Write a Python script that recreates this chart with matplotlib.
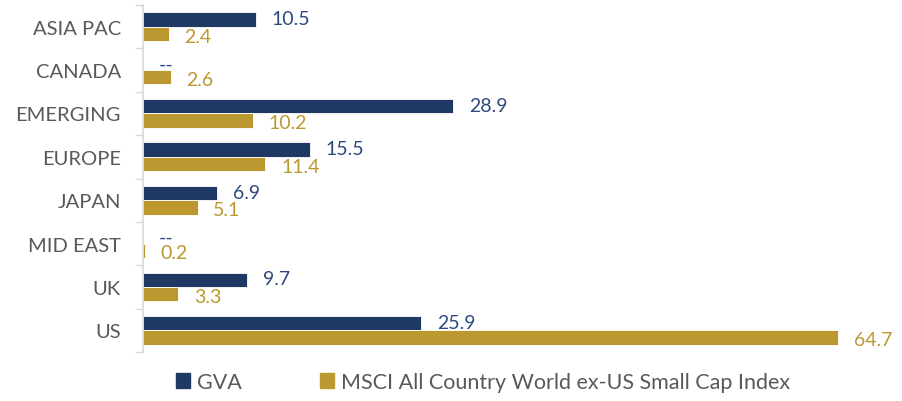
import matplotlib
matplotlib.use("Agg")
import matplotlib.pyplot as plt
from matplotlib.patches import Patch
import numpy as np

categories = ["ASIA PAC", "CANADA", "EMERGING", "EUROPE", "JAPAN", "MID EAST", "UK", "US"]
gva = [10.5, None, 28.9, 15.5, 6.9, None, 9.7, 25.9]
msci = [2.4, 2.6, 10.2, 11.4, 5.1, 0.2, 3.3, 64.7]
series_names = ["GVA", "MSCI All Country World ex-US Small Cap Index"]

NAVY = "#1F3864"
GOLD = "#BC9830"
NAVY_TXT = "#2E4A7D"
GOLD_TXT = "#BC9830"
GRAY = "#595959"

plt.rcParams['font.family'] = ['Lato', 'DejaVu Sans']

fig = plt.figure(figsize=(9.03, 4.02), dpi=100)
ax = fig.add_axes([143/903, 1 - 353/402, (895-143)/903, (353-6)/402])

y = np.arange(len(categories))
h = 0.33
gva_vals = [v if v is not None else 0 for v in gva]
ax.barh(y - h/2, gva_vals, height=h, color=NAVY, edgecolor="white", linewidth=0.6)
ax.barh(y + h/2, msci, height=h, color=GOLD, edgecolor="white", linewidth=0.6)

off = 1.45
for i, v in enumerate(gva):
    if v is None:
        ax.text(off, y[i] - h/2 + 0.02, "--", color=NAVY_TXT, fontsize=14, va="center", ha="left")
    else:
        ax.text(v + off, y[i] - h/2 - 0.02, f"{v:.1f}", color=NAVY_TXT, fontsize=14, va="center", ha="left")
for i, v in enumerate(msci):
    ax.text(v + off, y[i] + h/2 + 0.05, f"{v:.1f}", color=GOLD_TXT, fontsize=14, va="center", ha="left")

ax.set_xlim(0, 70)
ax.set_ylim(len(categories) - 0.5, -0.5)
ax.set_xticks([])
ax.set_yticks(y)
ax.set_yticklabels(categories, fontsize=14.5, color=GRAY)
ax.tick_params(axis="y", which="major", length=0, pad=16)
ax.set_yticks(np.arange(-0.5, len(categories), 1.0), minor=True)
ax.tick_params(axis="y", which="minor", length=6, color="#D9D9D9", width=1)
for s in ["top", "right", "bottom"]:
    ax.spines[s].set_visible(False)
ax.spines["left"].set_color("#D9D9D9")
ax.spines["left"].set_linewidth(1.2)

handles = [Patch(color=NAVY), Patch(color=GOLD)]
fig.legend(handles, series_names, loc="center", bbox_to_anchor=(483/903, 1 - 383/402), ncol=2,
           frameon=False, fontsize=15.5, labelcolor=GRAY, handlelength=0.65, handleheight=0.65,
           handletextpad=0.35, columnspacing=3.6)

fig.savefig("out.png", dpi=100)
